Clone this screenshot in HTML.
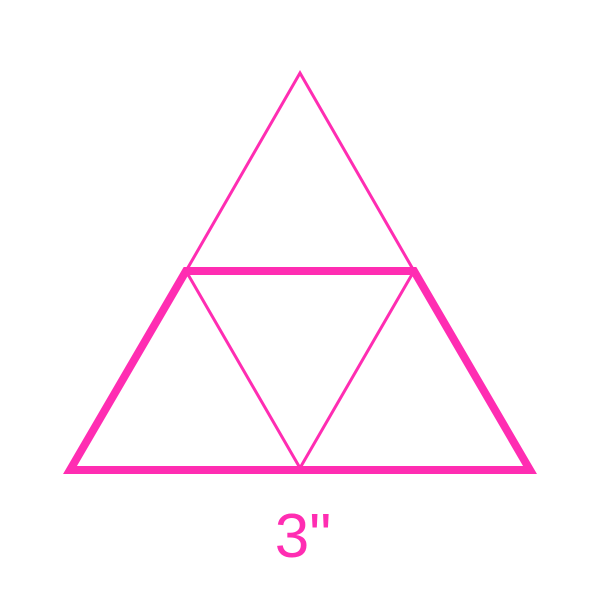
<!DOCTYPE html>
<html>
<head>
<meta charset="utf-8">
<style>
  html, body { margin: 0; padding: 0; background: #ffffff; }
  svg { display: block; }
</style>
</head>
<body>
<svg width="600" height="600" viewBox="0 0 600 600">
  <rect x="0" y="0" width="600" height="600" fill="#ffffff"/>
  <polyline points="186,271 300,73 414,271" fill="none" stroke="#ff2db2" stroke-width="3" stroke-linejoin="miter"/>
  <polyline points="186,271 300,468 414,271" fill="none" stroke="#ff2db2" stroke-width="3" stroke-linejoin="miter"/>
  <polygon points="186,271 414,271 530,470 70,470" fill="none" stroke="#ff2db2" stroke-width="8" stroke-linejoin="miter"/>
  <text x="303" y="557" text-anchor="middle" font-family="'Liberation Sans', sans-serif" font-size="62" fill="#ff2db2">3"</text>
</svg>
</body>
</html>
